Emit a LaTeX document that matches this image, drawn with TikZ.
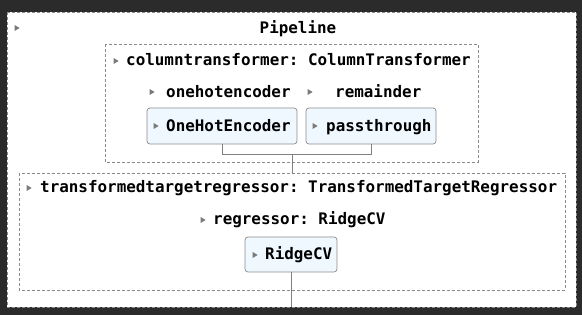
\documentclass[tikz,border=0pt]{standalone}
\usepackage{fontspec}
\setmonofont{DejaVu Sans Mono}
\begin{document}
\definecolor{frame}{HTML}{2B2B2B}
\definecolor{estfill}{HTML}{F0F8FF}
\definecolor{estline}{HTML}{8C8C8C}
\definecolor{dashline}{HTML}{8A8A8A}
\definecolor{wire}{HTML}{808080}
\definecolor{tri}{HTML}{7A7A7A}
\begin{tikzpicture}[x=1pt,y=-1pt,
  lbl/.style={anchor=base west,inner sep=0pt,font=\ttfamily\bfseries\fontsize{15.9}{19}\selectfont,text=black},
  dashbox/.style={draw=dashline,dashed,dash pattern=on 3pt off 2pt,line width=0.6pt},
  estbox/.style={draw=estline,fill=estfill,rounded corners=3pt,line width=0.7pt},
  wireline/.style={draw=wire,line width=0.8pt},
  toggle/.style={fill=tri}]
% page and outer pipeline area
\fill[frame] (0,0) rectangle (582,315);
\useasboundingbox (0,0) rectangle (582,315);
\filldraw[fill=white,dashbox] (7,12) rectangle (576,307);
\newcommand{\tog}[2]{\fill[tri] (#1-2.4,#2-3.0) -- (#1+2.6,#2) -- (#1-2.4,#2+3.0) -- cycle;}
% Pipeline title
\tog{17}{28}
\node[lbl,anchor=base] (pipe) at (298,34) {Pipeline};
% column transformer
\draw[dashbox] (105,44) rectangle (478,162);
\tog{116}{61}
\node[lbl] (ct) at (126,66) {columntransformer: ColumnTransformer};
\tog{152}{92}
\node[lbl] (ohename) at (166,98) {onehotencoder};
\tog{310}{92}
\node[lbl] (remname) at (335,98) {remainder};
\draw[estbox] (147,108) rectangle (297,144);
\coordinate (oheb) at (222,144);
\tog{156}{126}
\node[lbl] (ohe) at (166,132) {OneHotEncoder};
\draw[estbox] (306,108) rectangle (436,144);
\coordinate (ptb) at (371,144);
\tog{315}{126}
\node[lbl] (pt) at (326,132) {passthrough};
% joins below the column transformer
\coordinate (joinl) at (222,154);
\coordinate (joinr) at (371,154);
\coordinate (joinm) at (292,154);
\coordinate (tttop) at (292,173);
\draw[wireline] (oheb) -- (joinl) -- (joinr) -- (ptb);
\draw[wireline] (joinm) -- (tttop);
% transformed target regressor
\draw[dashbox] (19,173) rectangle (565,290);
\tog{29}{188}
\node[lbl] (tt) at (40,193) {transformedtargetregressor: TransformedTargetRegressor};
\tog{203}{220}
\node[lbl] (reg) at (213,225) {regressor: RidgeCV};
\draw[estbox] (245,237) rectangle (337,272);
\tog{255}{255}
\node[lbl] (ridge) at (265,260) {RidgeCV};
\coordinate (ridgeb) at (291,272);
\coordinate (outb) at (291,307);
\draw[wireline] (ridgeb) -- (outb);
\end{tikzpicture}
\end{document}
